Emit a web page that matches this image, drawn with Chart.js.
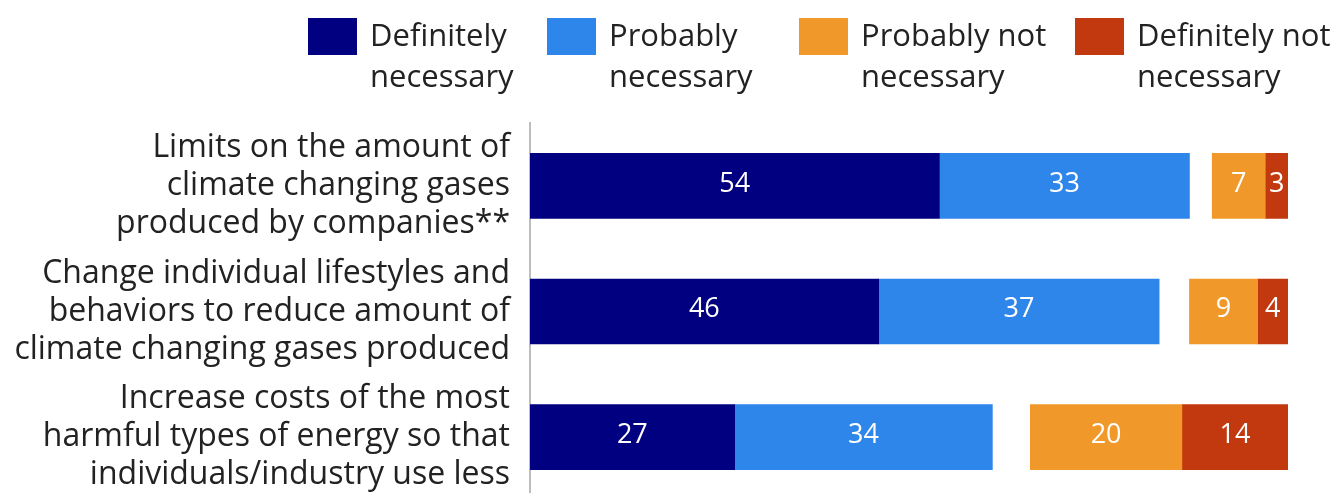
<!DOCTYPE html>
<html>
<head>
<meta charset="utf-8">
<script src="https://cdn.jsdelivr.net/npm/chart.js@4.4.1/dist/chart.umd.min.js"></script>
<style>
  html, body { margin: 0; padding: 0; overflow: hidden; background: #fff; }
  #wrap { width: 1335px; height: 500px; }
</style>
</head>
<body>
<div id="wrap"><canvas id="climateChart"></canvas></div>
<script>
const categorias = [
  ['Limits on the amount of', 'climate changing gases', 'produced by companies**'],
  ['Change individual lifestyles and', 'behaviors to reduce amount of', 'climate changing gases produced'],
  ['Increase costs of the most', 'harmful types of energy so that', 'individuals/industry use less']
];
const definitelyNecessary = [54, 46, 27];
const probablyNecessary = [33, 37, 34];
const probablyNotNecessary = [7, 9, 20];
const definitelyNotNecessary = [3, 4, 14];
// blank space between the two sides (rest up to 100)
const sinRespuesta = [3, 4, 5];
const nombresSeries = [
  ['Definitely', 'necessary'],
  ['Probably', 'necessary'],
  ['Probably not', 'necessary'],
  ['Definitely not', 'necessary']
];
const colores = ['#000080', '#2e86eb', '#f0992a', '#c2380f'];

const fuente = "'Open Sans'";

// numbers inside the bars
const etiquetasValores = {
  id: 'etiquetasValores',
  afterDatasetsDraw(chart) {
    const ctx = chart.ctx;
    ctx.save();
    ctx.font = '27px ' + fuente;
    ctx.fillStyle = '#ffffff';
    ctx.textAlign = 'center';
    ctx.textBaseline = 'middle';
    chart.data.datasets.forEach((ds, i) => {
      if (ds.hueco) return;
      chart.getDatasetMeta(i).data.forEach((bar, j) => {
        const p = bar.getProps(['x', 'base', 'y'], true);
        ctx.fillText(ds.data[j], (p.x + p.base) / 2, p.y - 2);
      });
    });
    ctx.restore();
  }
};

// legend on top, two lines per item
const leyenda = {
  id: 'leyenda',
  afterDraw(chart) {
    const ctx = chart.ctx;
    const posX = [308, 547, 799, 1075];
    ctx.save();
    ctx.font = '31px ' + fuente;
    ctx.textBaseline = 'middle';
    ctx.textAlign = 'left';
    nombresSeries.forEach((lineas, i) => {
      ctx.fillStyle = colores[i];
      ctx.fillRect(posX[i], 18, 49, 37);
      ctx.fillStyle = '#222222';
      lineas.forEach((t, k) => ctx.fillText(t, posX[i] + 62, 37 + k * 41));
    });
    ctx.restore();
  }
};

function serie(label, data, color) {
  return { label: label, data: data, backgroundColor: color, barThickness: 65, borderWidth: 0 };
}

document.fonts.load('32px ' + fuente).then(() => {
  const ctx = document.getElementById('climateChart').getContext('2d');
  const climateChart = new Chart(ctx, {
    type: 'bar',
    data: {
      labels: categorias,
      datasets: [
        serie('Definitely necessary', definitelyNecessary, colores[0]),
        serie('Probably necessary', probablyNecessary, colores[1]),
        Object.assign(serie('', sinRespuesta, 'rgba(0,0,0,0)'), { hueco: true }),
        serie('Probably not necessary', probablyNotNecessary, colores[2]),
        serie('Definitely not necessary', definitelyNotNecessary, colores[3])
      ]
    },
    options: {
      indexAxis: 'y',
      responsive: true,
      maintainAspectRatio: false,
      animation: false,
      layout: { padding: { top: 123, right: 47, left: 0, bottom: 0 } },
      plugins: {
        legend: { display: false },
        tooltip: { enabled: false }
      },
      scales: {
        x: { stacked: true, min: 0, max: 100, display: false },
        y: {
          stacked: true,
          grid: { display: false, drawTicks: false },
          border: { display: true, color: '#bdbdbd', width: 2 },
          ticks: {
            color: '#222222',
            font: { family: fuente, size: 32, lineHeight: 1.19 },
            padding: 20
          },
          afterFit: (scale) => {
            scale.width = 530;
            scale.paddingTop = 0;
            scale.paddingBottom = 0;
          }
        }
      }
    },
    plugins: [etiquetasValores, leyenda]
  });
});
</script>
</body>
</html>
